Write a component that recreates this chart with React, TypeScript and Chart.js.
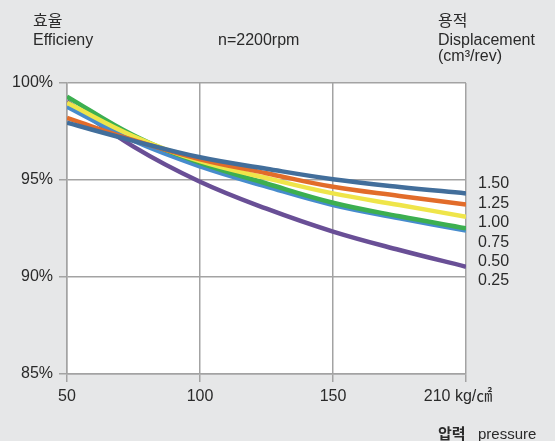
import React, { useEffect, useRef } from "react";
import { Chart, registerables } from "chart.js";

Chart.register(...registerables);

// ---- data ----
const pressures = [50, 75, 100, 125, 150, 180, 210];
const xTickPressures = [50, 100, 150, 210];
const xTickLabels = ["50", "100", "150", "210 kg/㎠\u2003"];
const yTickValues = [85, 90, 95, 100];

const displacementLabels = ["1.50", "1.25", "1.00", "0.75", "0.50", "0.25"];
const eff150 = [97.95, 97.02, 96.17, 95.58, 95.04, 94.64, 94.31];
const eff125 = [98.2, 97.05, 96.07, 95.35, 94.65, 94.18, 93.73];
const eff100 = [98.98, 97.25, 95.97, 95.1, 94.31, 93.71, 93.11];
const eff075 = [99.3, 97.3, 95.88, 94.82, 93.83, 93.13, 92.51];
const eff050 = [98.78, 97.02, 95.7, 94.66, 93.71, 93.03, 92.39];
const eff025 = [99.04, 96.72, 94.91, 93.52, 92.34, 91.39, 90.53];
const seriesValues = [eff150, eff125, eff100, eff075, eff050, eff025];
const seriesColors = ["#426e9b", "#e26c2a", "#efe54a", "#3caf50", "#478ccd", "#694f96"];

const FONT = "'Liberation Sans', Arial, 'Noto Sans CJK KR', sans-serif";

// the printed axis is evenly spaced between the tick pressures
function axisPos(p: number): number {
  const t = xTickPressures;
  for (let i = 0; i < t.length - 1; i++) {
    if (p <= t[i + 1]) return i + (p - t[i]) / (t[i + 1] - t[i]);
  }
  return t.length - 1;
}

export default function App() {
  const ref = useRef<HTMLCanvasElement | null>(null);

  useEffect(() => {
    if (!ref.current) return;

    const decor = {
      id: "decor",
      beforeDraw(chart: any) {
        const { ctx, chartArea: a } = chart;
        ctx.save();
        ctx.fillStyle = "#e6e7e8";
        ctx.fillRect(0, 0, chart.width, chart.height);
        ctx.fillStyle = "#ffffff";
        ctx.fillRect(a.left, a.top, a.right - a.left, a.bottom - a.top);
        ctx.restore();
      },
      afterDraw(chart: any) {
        const { ctx } = chart;
        ctx.save();
        ctx.fillStyle = "#2a2a2a";
        ctx.textBaseline = "alphabetic";
        ctx.textAlign = "left";
        ctx.font = `16px ${FONT}`;
        ctx.fillText("효율", 33, 26);
        ctx.fillText("용적", 438, 26);
        ctx.fillText("Efficieny", 33, 45);
        ctx.fillText("n=2200rpm", 218, 45);
        ctx.fillText("Displacement", 438, 45);
        ctx.fillText("(cm³/rev)", 438, 61);
        // displacement labels
        ctx.textBaseline = "middle";
        displacementLabels.forEach((lab, i) => {
          ctx.fillText(lab, 478, 184 + i * 19.4);
        });
        // pressure label
        ctx.textBaseline = "alphabetic";
        ctx.font = `bold 15px ${FONT}`;
        ctx.fillText("압력", 438, 439);
        ctx.font = `15px ${FONT}`;
        ctx.fillText("pressure", 478, 439);
        ctx.restore();
      },
    };

    const chart = new Chart(ref.current, {
      type: "line",
      data: {
        datasets: seriesValues.map((vals, i) => ({
          label: displacementLabels[i],
          data: vals.map((v, j) => ({ x: axisPos(pressures[j]), y: v })),
          borderColor: seriesColors[i],
          backgroundColor: seriesColors[i],
          borderWidth: 4.5,
          pointRadius: 0,
          tension: 0.4,
          fill: false,
        })),
      },
      options: {
        animation: false,
        responsive: false,
        maintainAspectRatio: false,
        layout: { padding: { left: 0, top: 83, right: 89, bottom: 0 } },
        plugins: { legend: { display: false }, tooltip: { enabled: false } },
        scales: {
          x: {
            type: "linear",
            min: 0,
            max: xTickPressures.length - 1,
            afterBuildTicks: (scale: any) => {
              scale.ticks = xTickPressures.map((_, i) => ({ value: i }));
            },
            afterFit: (scale: any) => {
              scale.height = 67;
            },
            ticks: {
              autoSkip: false,
              maxRotation: 0,
              padding: 5,
              color: "#2a2a2a",
              font: { family: FONT, size: 16 },
              callback: (v: any) => xTickLabels[Math.round(Number(v))] ?? "",
            },
            grid: { color: "#a3a3a3", lineWidth: 1.5, tickLength: 8 },
            border: { display: true, color: "#a3a3a3", width: 1.5 },
          },
          y: {
            type: "linear",
            min: 85,
            max: 100,
            afterBuildTicks: (scale: any) => {
              scale.ticks = yTickValues.map((v) => ({ value: v }));
            },
            afterFit: (scale: any) => {
              scale.width = 67;
            },
            ticks: {
              padding: 6,
              color: "#2a2a2a",
              font: { family: FONT, size: 16 },
              callback: (v: any) => `${v}%`,
            },
            grid: { color: "#a3a3a3", lineWidth: 1.5, tickLength: 8 },
            border: { display: true, color: "#a3a3a3", width: 1.5 },
          },
        },
      },
      plugins: [decor],
    });
    return () => chart.destroy();
  }, []);

  return (
    <div style={{ position: "fixed", left: 0, top: 0, width: 555, height: 441, background: "#e6e7e8" }}>
      <canvas ref={ref} width={555} height={441} style={{ display: "block", width: 555, height: 441 }} />
    </div>
  );
}
